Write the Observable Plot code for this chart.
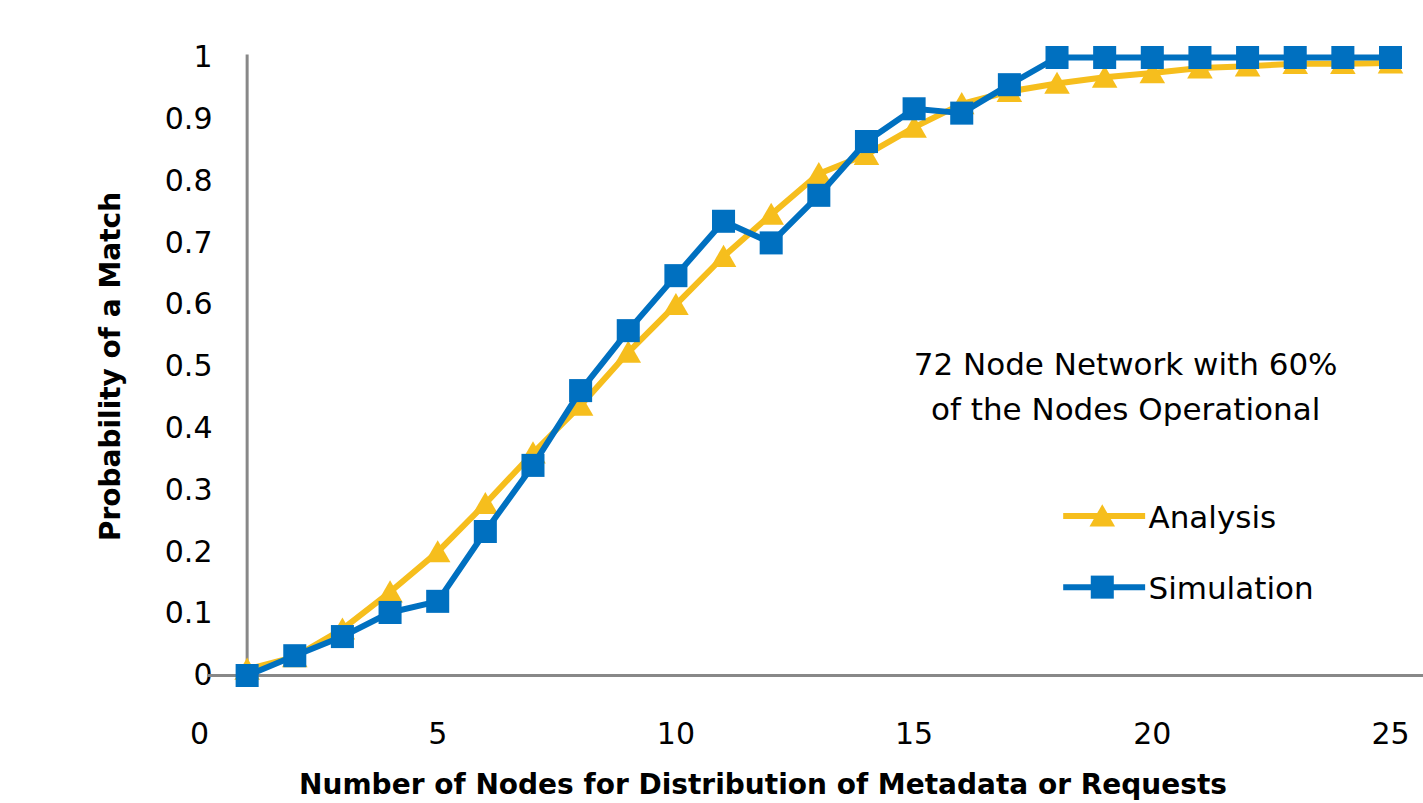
<!DOCTYPE html>
<html>
<head>
<meta charset="utf-8">
<script src="https://cdn.jsdelivr.net/npm/d3@7"></script>
<script src="https://cdn.jsdelivr.net/npm/@observablehq/plot@0.6"></script>
<style>
  html, body { margin: 0; padding: 0; background: #fff; }
  #chart svg { display: block; }
</style>
</head>
<body>
<div id="chart"></div>
<script>
// ---- data ----
const nodes = [1,2,3,4,5,6,7,8,9,10,11,12,13,14,15,16,17,18,19,20,21,22,23,24,25];
const analysis = [0.01,0.03,0.075,0.135,0.2,0.278,0.36,0.437,0.523,0.6,0.678,0.746,0.812,0.843,0.887,0.925,0.945,0.958,0.968,0.975,0.983,0.986,0.99,0.99,0.991];
const simulation = [0,0.032,0.063,0.102,0.12,0.233,0.34,0.461,0.558,0.647,0.735,0.70,0.777,0.864,0.917,0.91,0.956,1,1,1,1,1,1,1,1];
const seriesNames = ["Analysis", "Simulation"];
const xTicks = [0,5,10,15,20,25];
const yTicks = [0,0.1,0.2,0.3,0.4,0.5,0.6,0.7,0.8,0.9,1];
const yTickLabels = ["0","0.1","0.2","0.3","0.4","0.5","0.6","0.7","0.8","0.9","1"];
const xTitle = "Number of Nodes for Distribution of Metadata or Requests";
const yTitle = "Probability of a Match";
const noteLines = ["72 Node Network with 60%", "of the Nodes Operational"];

// ---- build ----
const gold = "#F6BE1D";
const blue = "#0070C0";
const axisGray = "#888888";
const aData = nodes.map((n, i) => ({x: n, y: analysis[i]}));
const sData = nodes.map((n, i) => ({x: n, y: simulation[i]}));

// legend / annotation placement (data coordinates)
const legendA = [{name: seriesNames[0], y: 0.258}];
const legendS = [{name: seriesNames[1], y: 0.143}];
const noteData = noteLines.map((t, i) => ({t, y: [0.5016, 0.4288][i]}));

const chart = Plot.plot({
  width: 1423,
  height: 803,
  marginLeft: 199,
  marginRight: 33,
  marginTop: 57,
  marginBottom: 128,
  x: {domain: [0, 25]},
  y: {domain: [0, 1]},
  style: {fontFamily: "'DejaVu Sans', sans-serif", fontSize: "30px", color: "#000", background: "#fff"},
  marks: [
    Plot.axisX(xTicks, {tickSize: 0, tickPadding: 47, label: null, fontSize: 30}),
    Plot.axisY(yTicks, {tickSize: 0, tickPadding: 0, dx: 13, label: null, fontSize: 30,
      tickFormat: d => yTickLabels[yTicks.indexOf(d)]}),
    Plot.ruleY([0], {x1: 0.17, x2: 25.7, stroke: axisGray, strokeWidth: 3}),
    Plot.ruleX([1], {y1: 0, y2: 1.004, stroke: axisGray, strokeWidth: 3}),
    // Analysis
    Plot.line(aData, {x: "x", y: "y", stroke: gold, strokeWidth: 6}),
    Plot.dot(aData, {x: "x", y: "y", symbol: "triangle", r: 9.5, fill: gold, stroke: "none", dy: 3}),
    // Simulation
    Plot.line(sData, {x: "x", y: "y", stroke: blue, strokeWidth: 6}),
    Plot.dot(sData, {x: "x", y: "y", symbol: "square", r: 13, fill: blue, stroke: "none"}),
    // annotation
    Plot.text(noteData, {x: 19.44, y: "y", text: "t", fontSize: 31, textAnchor: "middle", fill: "#000"}),
    // legend
    Plot.ruleY(legendA, {x1: 18.14, x2: 19.86, y: "y", stroke: gold, strokeWidth: 6}),
    Plot.dot(legendA, {x: 18.95, y: "y", symbol: "triangle", r: 9.5, fill: gold, stroke: "none", dy: 3}),
    Plot.ruleY(legendS, {x1: 18.14, x2: 19.86, y: "y", stroke: blue, strokeWidth: 6}),
    Plot.dot(legendS, {x: 18.95, y: "y", symbol: "square", r: 13, fill: blue, stroke: "none"}),
    Plot.text(legendA.concat(legendS), {x: 19.92, y: d => d.y - 0.003, text: "name", textAnchor: "start", fontSize: 31, fill: "#000"}),
    // axis titles
    Plot.text([xTitle], {frameAnchor: "bottom", textAnchor: "middle", lineAnchor: "middle", dx: -32, dy: 110, fontSize: 28, fontWeight: "bold", fill: "#000"}),
    Plot.text([yTitle], {frameAnchor: "left", textAnchor: "middle", lineAnchor: "middle", rotate: -90, dx: -88, fontSize: 28, fontWeight: "bold", fill: "#000"})
  ]
});
document.getElementById("chart").appendChild(chart);
</script>
</body>
</html>
